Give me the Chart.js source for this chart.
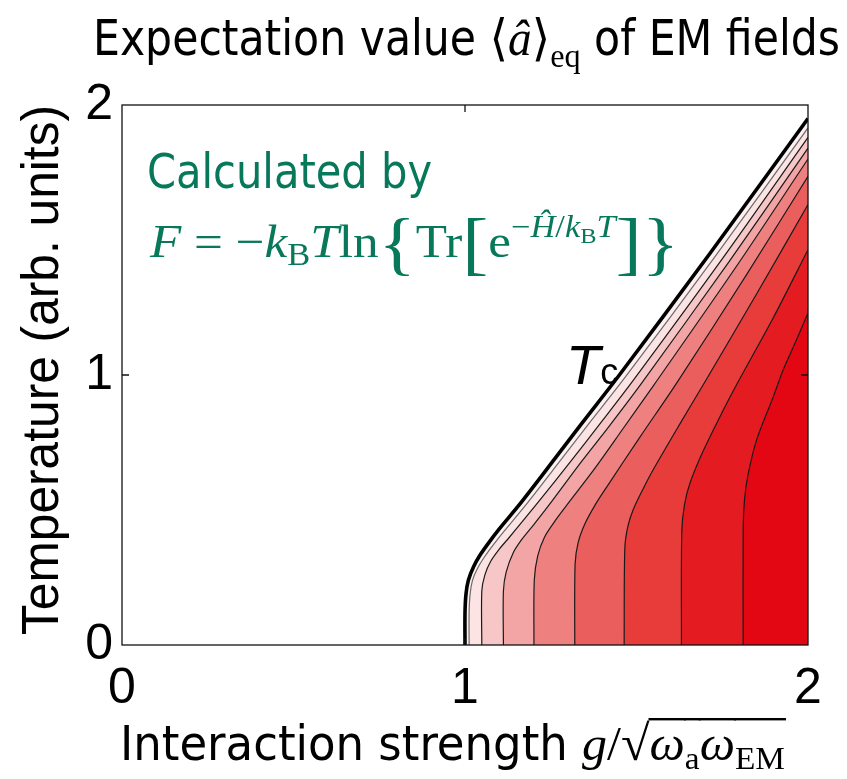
<!DOCTYPE html>
<html>
<head>
<meta charset="utf-8">
<script src="https://cdn.jsdelivr.net/npm/chart.js@4.4.1/dist/chart.umd.min.js"></script>
<style>
  html, body { margin: 0; padding: 0; background: #fff; }
  #chart { display: block; }
</style>
</head>
<body>
<canvas id="chart" width="847" height="779"></canvas>
<script>
// Contour lines of <a>_eq: g (interaction strength) vs T.
// Tc is the phase boundary, the thin lines are the equal-value contours to its right.
const tcG = [1.000, 1.000, 1.003, 1.010, 1.025, 1.044, 1.070, 1.100, 1.165, 1.262, 1.340, 1.450, 1.714, 2.000];
const tcT = [0.000, 0.120, 0.190, 0.241, 0.290, 0.333, 0.380, 0.430, 0.530, 0.690, 0.820, 1.000, 1.450, 1.950];

const c1G = [1.012, 1.012, 1.015, 1.022, 1.037, 1.056, 1.083, 1.113, 1.178, 1.276, 1.355, 1.466, 1.730, 2.000];
const c1T = [0.000, 0.120, 0.190, 0.240, 0.285, 0.325, 0.372, 0.420, 0.520, 0.680, 0.810, 0.990, 1.440, 1.915];

const c2G = [1.049, 1.049, 1.058, 1.075, 1.100, 1.130, 1.214, 1.311, 1.400, 1.491, 1.750, 2.000];
const c2T = [0.000, 0.200, 0.260, 0.310, 0.355, 0.400, 0.530, 0.685, 0.830, 0.981, 1.430, 1.880];

const c3G = [1.112, 1.112, 1.120, 1.140, 1.165, 1.200, 1.243, 1.340, 1.420, 1.515, 1.770, 2.000];
const c3T = [0.000, 0.200, 0.270, 0.340, 0.390, 0.445, 0.515, 0.680, 0.810, 0.970, 1.420, 1.840];

const c4G = [1.201, 1.202, 1.212, 1.232, 1.260, 1.292, 1.379, 1.460, 1.549, 1.790, 2.000];
const c4T = [0.000, 0.240, 0.330, 0.400, 0.455, 0.510, 0.655, 0.800, 0.960, 1.400, 1.800];

const c5G = [1.320, 1.321, 1.330, 1.350, 1.380, 1.413, 1.510, 1.617, 1.820, 2.000];
const c5T = [0.000, 0.300, 0.380, 0.450, 0.520, 0.585, 0.770, 0.970, 1.370, 1.736];

const c6G = [1.464, 1.466, 1.475, 1.490, 1.520, 1.549, 1.627, 1.695, 1.850, 2.000];
const c6T = [0.000, 0.360, 0.440, 0.500, 0.580, 0.650, 0.820, 0.965, 1.300, 1.631];

const c7G = [1.631, 1.632, 1.640, 1.656, 1.695, 1.753, 1.792, 1.900, 2.000];
const c7T = [0.000, 0.420, 0.520, 0.600, 0.720, 0.870, 0.965, 1.215, 1.464];

const c8G = [1.811, 1.811, 1.815, 1.825, 1.850, 1.899, 1.928, 1.963, 2.000];
const c8T = [0.000, 0.430, 0.540, 0.630, 0.759, 0.920, 1.020, 1.120, 1.230];

const xTicks = [0, 1, 2];
const yTicks = [0, 1, 2];

const SANS_NARROW = '"Liberation Sans Narrow", "DejaVu Sans Condensed", sans-serif';
const SERIF = '"Liberation Serif", "DejaVu Serif", serif';
const GREEN = '#08785a';

function toPoints(gs, ts) {
  return gs.map((g, i) => ({ x: g, y: ts[i] }));
}

// region colour is the fill to the right of (below) each contour
function contour(gs, ts, fillColor, lineColor, lineWidth) {
  return {
    data: toPoints(gs, ts),
    borderColor: lineColor,
    borderWidth: lineWidth,
    backgroundColor: fillColor,
    fill: 'origin',
    pointRadius: 0,
    tension: 0.3,
  };
}

// Last dataset is drawn first, so the Tc region (the biggest) goes last.
const datasets = [
  contour(c8G, c8T, '#e30613', '#1a1a1a', 1.2),
  contour(c7G, c7T, '#e51b22', '#1a1a1a', 1.2),
  contour(c6G, c6T, '#e73c3a', '#1a1a1a', 1.2),
  contour(c5G, c5T, '#eb5e5e', '#1a1a1a', 1.2),
  contour(c4G, c4T, '#ef8080', '#1a1a1a', 1.2),
  contour(c3G, c3T, '#f3a5a5', '#1a1a1a', 1.2),
  contour(c2G, c2T, '#f7c6c6', '#1a1a1a', 1.2),
  contour(c1G, c1T, '#fce4e4', '#6a6a6a', 1.2),
  contour(tcG, tcT, '#fdf0f0', '#000000', 3.6),
];

// Draws a run of differently styled text pieces, squeezed to a target width.
function drawRich(ctx, x, baseline, width, parts, color) {
  ctx.save();
  ctx.fillStyle = color;
  ctx.textBaseline = 'alphabetic';
  let total = 0;
  parts.forEach((p) => {
    ctx.font = p.font;
    p.w = ctx.measureText(p.text).width;
    total += p.w;
  });
  const sx = width ? width / total : 1;
  ctx.translate(x, baseline);
  ctx.scale(sx, 1);
  let cx = 0;
  parts.forEach((p) => {
    ctx.font = p.font;
    ctx.fillText(p.text, cx, p.dy || 0);
    if (p.over) ctx.fillRect(cx - 1, -p.over, p.w + 2, 2.4);
    cx += p.w;
  });
  ctx.restore();
}

const decorations = {
  id: 'decorations',
  afterDatasetsDraw(chart) {
    const { ctx, chartArea: a, scales } = chart;
    ctx.save();
    // plot frame with short inward ticks
    ctx.strokeStyle = '#111';
    ctx.lineWidth = 1.3;
    ctx.strokeRect(a.left, a.top, a.right - a.left, a.bottom - a.top);
    const xm = scales.x.getPixelForValue(1);
    const ym = scales.y.getPixelForValue(1);
    ctx.beginPath();
    ctx.moveTo(xm, a.top); ctx.lineTo(xm, a.top + 7);
    ctx.moveTo(xm, a.bottom); ctx.lineTo(xm, a.bottom - 7);
    ctx.moveTo(a.left, ym); ctx.lineTo(a.left + 7, ym);
    ctx.moveTo(a.right, ym); ctx.lineTo(a.right - 7, ym);
    ctx.stroke();
    ctx.restore();
  },
  afterDraw(chart) {
    const ctx = chart.ctx;

    // title
    drawRich(ctx, 93, 55, 747, [
      { text: 'Expectation value ', font: `50px ${SANS_NARROW}` },
      { text: '\u27E8', font: `50px ${SERIF}` },
      { text: '\u00E2', font: `italic 50px ${SERIF}` },
      { text: '\u27E9', font: `50px ${SERIF}` },
      { text: 'eq', font: `34px ${SERIF}`, dy: 12 },
      { text: ' of EM fields', font: `50px ${SANS_NARROW}` },
    ], '#000');

    // x axis title
    drawRich(ctx, 120, 760, 665, [
      { text: 'Interaction strength ', font: `48px ${SANS_NARROW}` },
      { text: 'g', font: `italic 48px ${SERIF}` },
      { text: '/', font: `48px ${SERIF}` },
      { text: '\u221A', font: `50px ${SERIF}` },
      { text: '\u03C9', font: `italic 48px ${SERIF}`, over: 42 },
      { text: 'a', font: `32px ${SERIF}`, dy: 9, over: 42 },
      { text: '\u03C9', font: `italic 48px ${SERIF}`, over: 42 },
      { text: 'EM', font: `32px ${SERIF}`, dy: 9, over: 42 },
    ], '#000');

    // y axis title
    ctx.save();
    ctx.translate(58, 370);
    ctx.rotate(-Math.PI / 2);
    ctx.font = '52px "Liberation Sans", Arial, sans-serif';
    ctx.fillStyle = '#000';
    const label = 'Temperature (arb. units)';
    const w = ctx.measureText(label).width;
    ctx.scale(530 / w, 1);
    ctx.textAlign = 'center';
    ctx.fillText(label, 0, 0);
    ctx.restore();

    // green annotation
    drawRich(ctx, 147, 188, 285, [
      { text: 'Calculated by', font: `48px ${SANS_NARROW}` },
    ], GREEN);
    drawRich(ctx, 150, 257, 529, [
      { text: 'F', font: `italic 46px ${SERIF}` },
      { text: ' = ', font: `46px ${SERIF}` },
      { text: '\u2212', font: `46px ${SERIF}` },
      { text: 'k', font: `italic 46px ${SERIF}` },
      { text: 'B', font: `31px ${SERIF}`, dy: 8 },
      { text: 'T', font: `italic 46px ${SERIF}` },
      { text: 'ln', font: `46px ${SERIF}` },
      { text: '{', font: `70px ${SERIF}`, dy: 10 },
      { text: 'Tr', font: `46px ${SERIF}` },
      { text: '[', font: `70px ${SERIF}`, dy: 10 },
      { text: 'e', font: `46px ${SERIF}` },
      { text: '\u2212', font: `31px ${SERIF}`, dy: -20 },
      { text: '\u0124', font: `italic 31px ${SERIF}`, dy: -20 },
      { text: '/', font: `31px ${SERIF}`, dy: -20 },
      { text: 'k', font: `italic 31px ${SERIF}`, dy: -20 },
      { text: 'B', font: `22px ${SERIF}`, dy: -14 },
      { text: 'T', font: `italic 31px ${SERIF}`, dy: -20 },
      { text: ']', font: `70px ${SERIF}`, dy: 10 },
      { text: '}', font: `70px ${SERIF}`, dy: 10 },
    ], GREEN);

    // Tc label
    drawRich(ctx, 566, 384, 0, [
      { text: 'T', font: 'italic 56px "Liberation Sans", Arial, sans-serif' },
      { text: 'c', font: '36px "Liberation Sans", Arial, sans-serif' },
    ], '#000');
  },
};

const tickFont = { family: '"Liberation Sans", Arial, sans-serif', size: 50 };

new Chart(document.getElementById('chart').getContext('2d'), {
  type: 'line',
  data: { datasets },
  options: {
    responsive: false,
    animation: false,
    layout: { padding: { top: 105, right: 39, left: 0, bottom: 0 } },
    plugins: {
      legend: { display: false },
      tooltip: { enabled: false },
      filler: { propagate: false },
    },
    scales: {
      x: {
        type: 'linear',
        min: 0,
        max: 2,
        grid: { display: false },
        border: { display: false },
        afterBuildTicks: (s) => { s.ticks = xTicks.map((v) => ({ value: v })); },
        afterFit: (s) => { s.height = 134; },
        ticks: { color: '#000', font: tickFont, padding: 6, maxRotation: 0 },
      },
      y: {
        type: 'linear',
        min: 0,
        max: 2,
        grid: { display: false },
        border: { display: false },
        afterBuildTicks: (s) => { s.ticks = yTicks.map((v) => ({ value: v })); },
        afterFit: (s) => { s.width = 122; },
        ticks: { color: '#000', font: tickFont, padding: 1 },
      },
    },
  },
  plugins: [decorations],
});
</script>
</body>
</html>
